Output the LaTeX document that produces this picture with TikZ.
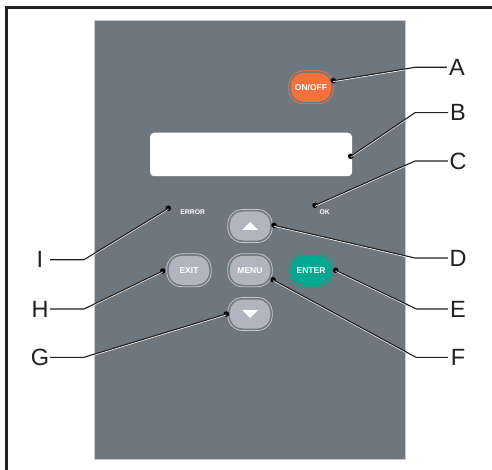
\documentclass[tikz,border=0pt]{standalone}
\usepackage{fontspec}
\setmainfont{Liberation Sans}
\definecolor{panelc}{HTML}{6D777D}
\definecolor{edgec}{HTML}{C6CCD2}
\definecolor{inkc}{HTML}{231F20}
\definecolor{btnc}{HTML}{B1B5C0}
\definecolor{ringc}{HTML}{C4C8D0}
\definecolor{enterc}{HTML}{00A88F}
\definecolor{onoffc}{HTML}{F4703C}
\tikzset{
  panelbox/.style={draw=edgec,line width=.5pt,fill=panelc,minimum width=311pt,minimum height=439pt,inner sep=0pt},
  screenbox/.style={fill=white,rounded corners=4pt,minimum width=202pt,minimum height=43.5pt,inner sep=0pt},
  ringbox/.style={draw=#1,line width=.8pt,fill=panelc,rounded corners=15pt,minimum width=44.5pt,minimum height=33pt,inner sep=0pt},
  keybox/.style={fill=#1,rounded corners=13pt,minimum width=40.5pt,minimum height=29pt,inner sep=0pt,text=white,font=\fontsize{8.5}{10}\selectfont\bfseries},
  ledtext/.style={text=white,inner sep=0pt,font=\fontsize{6.8}{8}\selectfont\bfseries},
  callout/.style={circle,fill=black,minimum size=5.5pt,inner sep=0pt},
  tag/.style={text=inkc,inner sep=0pt,minimum width=20pt,minimum height=18pt,font=\fontsize{23.5}{23.5}\selectfont},
  lead/.style={draw=inkc,line width=1.1pt},
  leadhalo/.style={draw=white,line width=1pt,transform canvas={yshift=-.8pt}},
  arrowtri/.style={fill=white,draw=none}
}
\begin{document}
\begin{tikzpicture}[x=1pt,y=-1pt]
\useasboundingbox (0,0) rectangle (492,470);
\fill[white] (0,0) rectangle (492,470);
\draw[inkc,line width=3pt] (6.5,470) -- (6.5,7.5) -- (492,7.5);
\node[panelbox] (panel) at (249.5,239.5) {};
\node[screenbox] (screen) at (251,154.5) {};
% buttons
\node[ringbox=onoffc] (ringA) at (311,87.3) {};
\node[keybox=onoffc] (onoff) at (311,87.3) {ON/OFF};
\node[ringbox=ringc] (ringU) at (250,226) {};
\node[keybox=btnc] (up) at (250,226) {};
\node[ringbox=ringc] (ringX) at (189,270.3) {};
\node[keybox=btnc] (exit) at (189,270.3) {EXIT};
\node[ringbox=ringc] (ringM) at (250,270.3) {};
\node[keybox=btnc] (menu) at (250,270.3) {MENU};
\node[ringbox=enterc] (ringE) at (311,270.3) {};
\node[keybox=enterc] (enter) at (311,270.3) {ENTER};
\node[ringbox=ringc] (ringD) at (250,314) {};
\node[keybox=btnc] (down) at (250,314) {};
\fill[arrowtri] (242,230) -- (258,230) -- (250,222) -- cycle;
\fill[arrowtri] (242,310) -- (258,310) -- (250,318) -- cycle;
\node[ledtext] (err) at (192.7,211.7) {ERROR};
\node[ledtext] (ok) at (324.7,211.7) {OK};
% callout dots
\node[callout] (dA) at (333.3,80.7) {};
\node[callout] (dB) at (350.7,156.3) {};
\node[callout] (dC) at (315,205.3) {};
\node[callout] (dD) at (274,225.3) {};
\node[callout] (dE) at (335.7,270.3) {};
\node[callout] (dF) at (273,279.7) {};
\node[callout] (dG) at (226.3,314) {};
\node[callout] (dH) at (162.7,271) {};
\node[callout] (dI) at (168.3,208.3) {};
% labels
\node[tag] (lA) at (457,67.3) {A};
\node[tag] (lB) at (458,112.7) {B};
\node[tag] (lC) at (458,161) {C};
\node[tag] (lD) at (458,258) {D};
\node[tag] (lE) at (458,309) {E};
\node[tag] (lF) at (458,357.3) {F};
\node[tag] (lG) at (40,357.3) {G};
\node[tag] (lH) at (40,309) {H};
\node[tag] (lI) at (40,259.7) {I};
% knees
\coordinate (kA) at (415,67.3);
\coordinate (kB) at (415,112.7);
\coordinate (kC) at (415,161);
\coordinate (kD) at (415,258);
\coordinate (kE) at (416.5,309);
\coordinate (kF) at (416,357.3);
\coordinate (kG) at (84,357.3);
\coordinate (kH) at (84,309);
\coordinate (kI) at (84,259.7);
% white halo on the panel
\begin{scope}
\clip (panel.north west) rectangle (panel.south east);
\draw[leadhalo] (dA.center) -- (kA);
\draw[leadhalo] (dB.center) -- (kB);
\draw[leadhalo] (dC.center) -- (kC);
\draw[leadhalo] (dD.center) -- (kD);
\draw[leadhalo] (dE.center) -- (kE);
\draw[leadhalo] (dF.center) -- (kF);
\draw[leadhalo] (dG.center) -- (kG);
\draw[leadhalo] (dH.center) -- (kH);
\draw[leadhalo] (dI.center) -- (kI);
\end{scope}
% leaders
\draw[lead] (dA.center) -- (kA) -- (lA.west |- kA);
\draw[lead] (dB.center) -- (kB) -- (lB.west |- kB);
\draw[lead] (dC.center) -- (kC) -- (lC.west |- kC);
\draw[lead] (dD.center) -- (kD) -- (lD.west |- kD);
\draw[lead] (dE.center) -- (kE) -- (lE.west |- kE);
\draw[lead] (dF.center) -- (kF) -- (lF.west |- kF);
\draw[lead] (dG.center) -- (kG) -- (lG.east |- kG);
\draw[lead] (dH.center) -- (kH) -- (lH.east |- kH);
\draw[lead] (dI.center) -- (kI) -- (lI.east |- kI);
\end{tikzpicture}
\end{document}
